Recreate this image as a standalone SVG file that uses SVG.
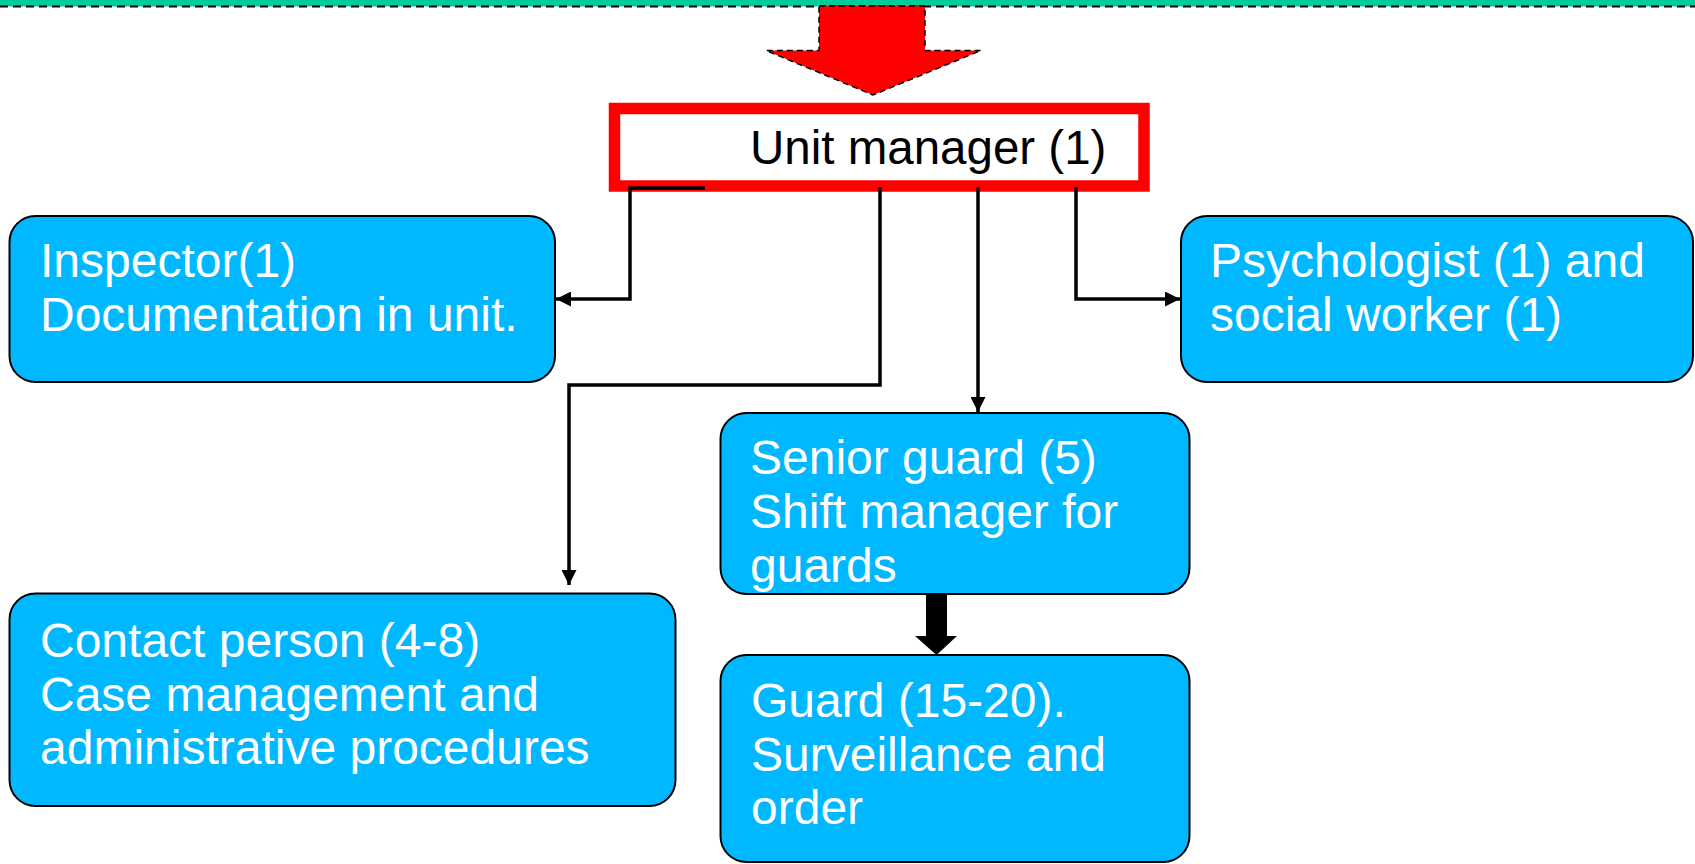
<svg xmlns="http://www.w3.org/2000/svg" width="1695" height="864" viewBox="0 0 1695 864">
<defs>
<style>
.box{fill:#00B8FF;stroke:#000;stroke-width:2}
.t{font-family:"Liberation Sans",Arial,sans-serif;font-size:48px;fill:#fff}
.c{fill:none;stroke:#000;stroke-width:3.5}
</style>
<marker id="ah" viewBox="0 0 10 10" refX="10" refY="5" markerWidth="16" markerHeight="15" markerUnits="userSpaceOnUse" orient="auto">
<path d="M0,0 L10,5 L0,10 Z" fill="#000"/>
</marker>
</defs>
<rect width="1695" height="864" fill="#fff"/>
<g id="top-band">
<rect x="0" y="-10" width="1695" height="16.5" fill="#00CC99"/>
<line x1="0" y1="6.5" x2="1695" y2="6.5" stroke="#000" stroke-width="2" stroke-dasharray="8,5"/>
</g>
<g id="red-arrow">
<path d="M819,6 L925,6 L925,50.5 L981,50.5 L873,95 L766,50.5 L819,50.5 Z" fill="#FF0000" stroke="#000" stroke-width="1.5" stroke-dasharray="6,4"/>
</g>
<g id="unit-manager">
<rect x="614.5" y="108.5" width="529.5" height="77.5" fill="#fff" stroke="#FF0000" stroke-width="11.5"/>
<text x="750" y="164" font-family="Liberation Sans, Arial, sans-serif" font-size="47.5" fill="#000">Unit manager (1)</text>
</g>
<g id="connectors">
<path class="c" d="M705,188 L630,188 L630,299 L556,299" marker-end="url(#ah)"/>
<path class="c" d="M880,187 L880,385 L569,385 L569,585" marker-end="url(#ah)"/>
<path class="c" d="M978,187 L978,412" marker-end="url(#ah)"/>
<path class="c" d="M1076,187 L1076,299 L1180,299" marker-end="url(#ah)"/>
<path d="M926,595 L947,595 L947,636 L957,636 L936.5,655 L915,636 L926,636 Z" fill="#000"/>
</g>
<g id="inspector">
<rect class="box" x="9.5" y="216" width="545.5" height="166" rx="26"/>
<text class="t" x="40" y="277">Inspector(1)</text>
<text class="t" x="40" y="331">Documentation in unit.</text>
</g>
<g id="psychologist">
<rect class="box" x="1181" y="216" width="512" height="166" rx="26"/>
<text class="t" x="1210" y="277">Psychologist (1) and</text>
<text class="t" x="1210" y="331">social worker (1)</text>
</g>
<g id="senior-guard">
<rect class="box" x="720.5" y="413" width="469" height="181" rx="26"/>
<text class="t" x="750" y="474">Senior guard (5)</text>
<text class="t" x="750" y="528">Shift manager for</text>
<text class="t" x="750" y="582">guards</text>
</g>
<g id="guard">
<rect class="box" x="720.5" y="655" width="469" height="207" rx="26"/>
<text class="t" x="751" y="717">Guard (15-20).</text>
<text class="t" x="751" y="771">Surveillance and</text>
<text class="t" x="751" y="824">order</text>
</g>
<g id="contact-person">
<rect class="box" x="9.5" y="593.5" width="666" height="212.5" rx="26"/>
<text class="t" x="40" y="657">Contact person (4-8)</text>
<text class="t" x="40" y="711">Case management and</text>
<text class="t" x="40" y="764">administrative procedures</text>
</g>
</svg>
